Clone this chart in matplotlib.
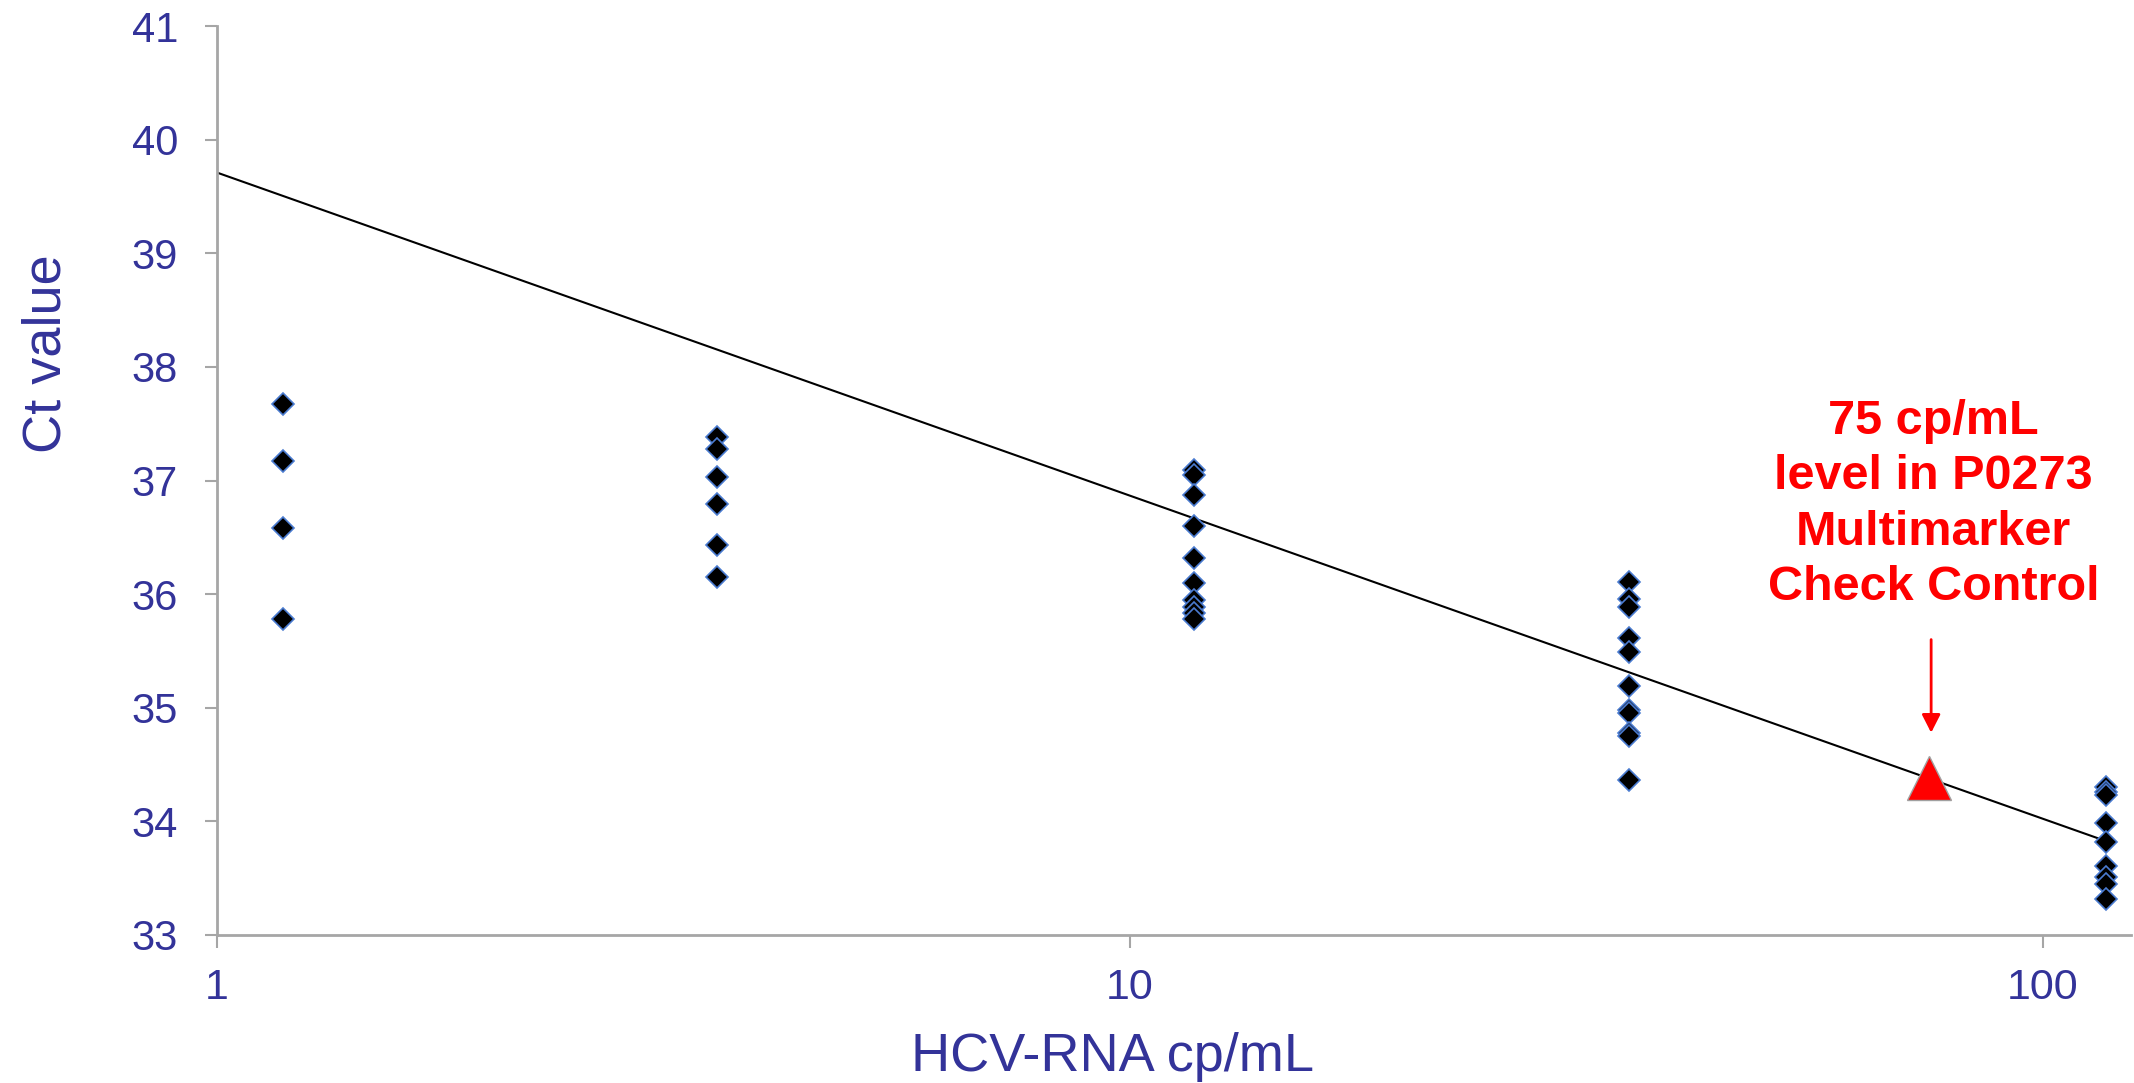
import numpy as np
import matplotlib
matplotlib.use("Agg")
import matplotlib.pyplot as plt

# Datos
conc = [1.18, 3.53, 11.77, 35.2, 117.3]
ct_grupos = [
    [37.67, 37.17, 36.58, 35.78],
    [37.38, 37.28, 37.03, 36.79, 36.43, 36.15],
    [37.09, 37.05, 36.87, 36.60, 36.32, 36.10, 35.95, 35.89, 35.83, 35.78],
    [36.11, 35.96, 35.89, 35.61, 35.49, 35.19, 34.98, 34.95, 34.78, 34.75, 34.36],
    [34.30, 34.26, 34.23, 33.99, 33.82, 33.61, 33.51, 33.45, 33.32],
]
control_x = 75
control_ct = 34.38
# Línea de tendencia: Ct = a + b*log10(x)
trend_a = 39.71
trend_b = -2.843
trend_range = [1, 117.3]
y_ticks = [33, 34, 35, 36, 37, 38, 39, 40, 41]
x_ticks = [1, 10, 100]

azul = '#333399'
gris = '#A6A6A6'
fuente = ['Liberation Sans', 'DejaVu Sans']
plt.rcParams['font.family'] = fuente

fig = plt.figure(figsize=(21.34, 10.83), dpi=100)
ax = fig.add_axes([217 / 2134, 148 / 1083, 1914 / 2134, 909 / 1083])

# puntos
for x, ys in zip(conc, ct_grupos):
    ax.plot([x] * len(ys), ys, linestyle='none', marker='D', markersize=11.5,
            markerfacecolor='black', markeredgecolor='#4A7BD0', markeredgewidth=1.2,
            zorder=3)

# tendencia
xt = np.array(trend_range)
ax.plot(xt, trend_a + trend_b * np.log10(xt), color='black', linewidth=1.5, zorder=2)

# control
ax.plot([control_x], [control_ct], linestyle='none', marker='^', markersize=32,
        markerfacecolor='#FF0000', markeredgecolor='#A0A0A0', markeredgewidth=1,
        zorder=4)

ax.annotate('', xy=(75.5, 34.78), xytext=(75.5, 35.6),
            arrowprops=dict(arrowstyle='-|>,head_width=0.28,head_length=0.55',
                            mutation_scale=20, shrinkA=0, shrinkB=0,
                            color='#FF0000', lw=2))
ax.text(76, 36.79, '75 cp/mL\nlevel in P0273\nMultimarker\nCheck Control',
        ha='center', va='center', multialignment='center', color='#FF0000',
        fontsize=35, fontweight='bold', linespacing=1.3)

ax.set_xscale('log')
ax.set_xlim(1, 125)
ax.set_ylim(33, 41)
ax.set_xticks(x_ticks)
ax.set_xticklabels([str(t) for t in x_ticks])
ax.xaxis.set_minor_locator(matplotlib.ticker.NullLocator())
ax.set_yticks(y_ticks)

for s in ['top', 'right']:
    ax.spines[s].set_visible(False)
for s in ['left', 'bottom']:
    ax.spines[s].set_color(gris)
    ax.spines[s].set_linewidth(2)

ax.tick_params(axis='both', direction='out', length=9, width=1.5, color=gris)
ax.tick_params(axis='y', pad=19, labelsize=30, labelcolor=azul)
ax.tick_params(axis='x', pad=15, labelsize=31, labelcolor=azul)

ax.set_xlabel('HCV-RNA cp/mL', fontsize=39, color=azul)
ax.set_ylabel('Ct value', fontsize=39, color=azul)
ax.xaxis.set_label_coords(0.468, -0.134)
ax.xaxis.label.set_va('center')
ax.yaxis.set_label_coords(-0.089, 0.639)
ax.yaxis.label.set_va('center')

fig.savefig('out.png', dpi=100)
